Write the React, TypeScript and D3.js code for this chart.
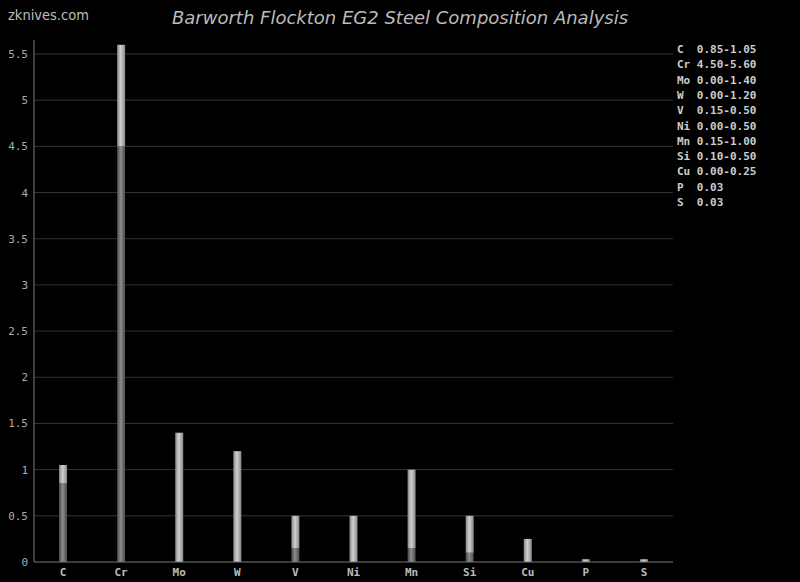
import { useEffect, useRef } from "react";
import * as d3 from "d3";

// element, min %, max %
const elements: string[] = ["C", "Cr", "Mo", "W", "V", "Ni", "Mn", "Si", "Cu", "P", "S"];
const minValues: number[] = [0.85, 4.5, 0, 0, 0.15, 0, 0.15, 0.1, 0, 0, 0];
const maxValues: number[] = [1.05, 5.6, 1.4, 1.2, 0.5, 0.5, 1.0, 0.5, 0.25, 0.03, 0.03];
const legendLabels: string[] = [
  "0.85-1.05",
  "4.50-5.60",
  "0.00-1.40",
  "0.00-1.20",
  "0.15-0.50",
  "0.00-0.50",
  "0.15-1.00",
  "0.10-0.50",
  "0.00-0.25",
  "0.03",
  "0.03",
];
const yTicks: number[] = [0, 0.5, 1, 1.5, 2, 2.5, 3, 3.5, 4, 4.5, 5, 5.5];

export default function App() {
  const svgRef = useRef<SVGSVGElement>(null);

  useEffect(() => {
    const width = 800;
    const height = 582;
    const margin = { top: 40, right: 127, bottom: 20, left: 34 };
    const mono = "'DejaVu Sans Mono', monospace";

    const svg = d3.select(svgRef.current).attr("width", width).attr("height", height);
    svg.selectAll("*").remove();

    svg.append("rect").attr("width", width).attr("height", height).attr("fill", "#000");

    const defs = svg.append("defs");
    const grad = (id: string, edge: string, mid: string) => {
      const g = defs.append("linearGradient").attr("id", id).attr("x1", "0%").attr("x2", "100%");
      g.append("stop").attr("offset", "0%").attr("stop-color", edge);
      g.append("stop").attr("offset", "45%").attr("stop-color", mid);
      g.append("stop").attr("offset", "100%").attr("stop-color", edge);
    };
    grad("gLow", "#4a4a4a", "#8c8c8c");
    grad("gHigh", "#888", "#d0d0d0");

    const x = d3
      .scaleBand()
      .domain(elements)
      .range([margin.left, width - margin.right]);

    const y = d3
      .scaleLinear()
      .domain([0, 5.5])
      .range([height - margin.bottom, 54]);

    // gridlines
    svg
      .append("g")
      .selectAll("line")
      .data(yTicks.filter((d) => d > 0))
      .join("line")
      .attr("x1", margin.left)
      .attr("x2", width - margin.right)
      .attr("y1", (d) => y(d))
      .attr("y2", (d) => y(d))
      .attr("stroke", "#333")
      .attr("stroke-width", 1);

    // y tick labels
    svg
      .append("g")
      .selectAll("text")
      .data(yTicks)
      .join("text")
      .attr("x", margin.left - 6)
      .attr("y", (d) => y(d) + 4)
      .attr("text-anchor", "end")
      .attr("fill", "#aaa")
      .attr("font-family", mono)
      .attr("font-size", 11)
      .text((d) => String(d));

    const barW = 8;
    const data = elements.map((e, i) => ({ e, min: minValues[i], max: maxValues[i] }));

    // lower (min) segment
    svg
      .append("g")
      .selectAll("rect")
      .data(data.filter((d) => d.min > 0))
      .join("rect")
      .attr("x", (d) => (x(d.e) ?? 0) + x.bandwidth() / 2 - barW / 2)
      .attr("width", barW)
      .attr("y", (d) => y(d.min))
      .attr("height", (d) => y(0) - y(d.min))
      .attr("fill", "url(#gLow)");

    // upper (range) segment
    svg
      .append("g")
      .selectAll("rect")
      .data(data)
      .join("rect")
      .attr("x", (d) => (x(d.e) ?? 0) + x.bandwidth() / 2 - barW / 2)
      .attr("width", barW)
      .attr("y", (d) => y(d.max))
      .attr("height", (d) => y(d.min) - y(d.max))
      .attr("fill", "url(#gHigh)");

    // axes lines
    svg
      .append("line")
      .attr("x1", margin.left)
      .attr("x2", margin.left)
      .attr("y1", margin.top)
      .attr("y2", y(0))
      .attr("stroke", "#777");
    svg
      .append("line")
      .attr("x1", margin.left)
      .attr("x2", width - margin.right)
      .attr("y1", y(0))
      .attr("y2", y(0))
      .attr("stroke", "#777");

    // x labels
    svg
      .append("g")
      .selectAll("text")
      .data(elements)
      .join("text")
      .attr("x", (d) => (x(d) ?? 0) + x.bandwidth() / 2)
      .attr("y", 576)
      .attr("text-anchor", "middle")
      .attr("fill", "#bbb")
      .attr("font-family", mono)
      .attr("font-weight", "bold")
      .attr("font-size", 11)
      .text((d) => d);

    // legend
    svg
      .append("g")
      .selectAll("text")
      .data(elements)
      .join("text")
      .attr("x", 677)
      .attr("y", (_, i) => 53 + i * 15.3)
      .attr("fill", "#ccc")
      .attr("font-family", mono)
      .attr("font-weight", "bold")
      .attr("font-size", 11)
      .text((d, i) => d.padEnd(3, "\u00a0") + legendLabels[i]);

    // title
    svg
      .append("text")
      .attr("x", 400)
      .attr("y", 24)
      .attr("text-anchor", "middle")
      .attr("fill", "#bbb")
      .attr("font-family", "'DejaVu Sans', sans-serif")
      .attr("font-style", "italic")
      .attr("font-size", 18)
      .text("Barworth Flockton EG2 Steel Composition Analysis");

    svg
      .append("text")
      .attr("x", 8)
      .attr("y", 20)
      .attr("fill", "#bbb")
      .attr("font-family", "'DejaVu Sans Condensed', 'DejaVu Sans', sans-serif")
      .attr("font-stretch", "condensed")
      .attr("font-size", 14.5)
      .text("zknives.com");
  }, []);

  return (
    <div style={{ position: "absolute", left: 0, top: 0, width: 800, height: 582, background: "#000" }}>
      <svg ref={svgRef} style={{ display: "block" }}></svg>
    </div>
  );
}
